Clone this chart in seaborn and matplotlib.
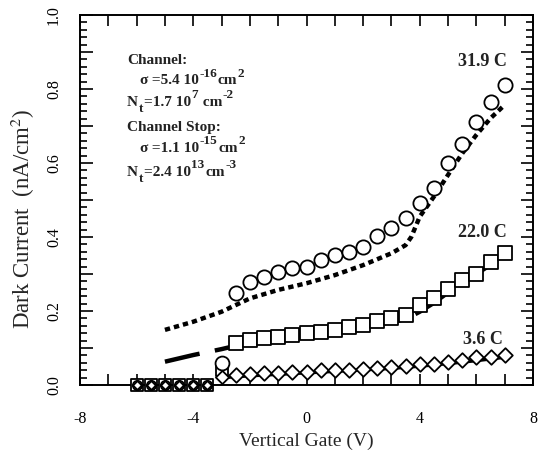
import numpy as np
import pandas as pd
import matplotlib
matplotlib.use("Agg")
import matplotlib.pyplot as plt
from matplotlib.ticker import MultipleLocator, FuncFormatter
import seaborn as sns

# ---- data ----
x_low = [-6.0, -5.5, -5.0, -4.5, -4.0, -3.5]
y_low = [0.0, 0.0, 0.0, 0.0, 0.0, 0.0]

x_meas = [-2.5, -2.0, -1.5, -1.0, -0.5, 0.0, 0.5, 1.0, 1.5, 2.0, 2.5, 3.0,
          3.5, 4.0, 4.5, 5.0, 5.5, 6.0, 6.5, 7.0]
y_319 = [0.248, 0.279, 0.293, 0.306, 0.315, 0.320, 0.338, 0.351, 0.360, 0.374,
         0.403, 0.424, 0.451, 0.493, 0.532, 0.599, 0.651, 0.712, 0.766, 0.811]
y_220 = [0.113, 0.122, 0.126, 0.131, 0.135, 0.140, 0.144, 0.149, 0.158, 0.162,
         0.174, 0.180, 0.189, 0.216, 0.234, 0.259, 0.284, 0.300, 0.333, 0.356]
y_36 = [0.027, 0.030, 0.033, 0.032, 0.036, 0.036, 0.041, 0.041, 0.041, 0.043,
        0.045, 0.049, 0.052, 0.057, 0.058, 0.061, 0.068, 0.075, 0.076, 0.081]
x_m3 = [-3.0]
y_319_m3 = [0.060]
y_220_m3 = [0.040]
y_36_m3 = [0.022]

# fits
x_fit319 = [-5.0, -4.0, -3.0, -2.0, -1.0, 0.0, 1.0, 2.0, 3.0, 3.5, 3.7, 4.0,
            4.5, 5.0, 5.5, 6.0, 6.5, 7.0]
y_fit319 = [0.149, 0.171, 0.198, 0.234, 0.257, 0.275, 0.297, 0.324, 0.356, 0.378,
            0.400, 0.455, 0.509, 0.568, 0.626, 0.676, 0.721, 0.757]
x_fit220 = [-5.0, -4.5, -4.0, -3.5, -3.0, -2.5, -2.0, -1.0, 0.0, 1.0, 2.0, 3.0,
            3.5, 4.0, 4.5, 5.0, 5.5, 6.0, 6.5, 7.0]
y_fit220 = [0.063, 0.072, 0.081, 0.089, 0.097, 0.106, 0.114, 0.127, 0.137, 0.147,
            0.158, 0.170, 0.178, 0.198, 0.222, 0.250, 0.278, 0.300, 0.325, 0.350]
x_fit36 = [-3.0, -2.0, -1.0, 0.0, 1.0, 2.0, 3.0, 4.0, 5.0, 6.0, 7.0]
y_fit36 = [0.020, 0.025, 0.029, 0.033, 0.037, 0.041, 0.045, 0.051, 0.058, 0.066, 0.075]

curve_labels = ["31.9 C", "22.0 C", "3.6 C"]

sns.set_style("ticks")
plt.rcParams["font.family"] = ["Liberation Serif", "DejaVu Serif"]
plt.rcParams["mathtext.fontset"] = "stix"

fig = plt.figure(figsize=(5.38, 4.57), dpi=100)
ax = fig.add_axes([80/538, 72/457, 453/538, 370/457])

# fit lines
sns.lineplot(x=x_fit319, y=y_fit319, ax=ax, color="black", lw=3.2,
             linestyle=(0, (1.2, 0.9)), estimator=None, sort=False)
sns.lineplot(x=x_fit220, y=y_fit220, ax=ax, color="black", lw=3.2,
             linestyle=(0, (8, 3.5)), estimator=None, sort=False)
sns.lineplot(x=x_fit36, y=y_fit36, ax=ax, color="black", lw=2.5,
             estimator=None, sort=False)

mk = dict(facecolor="white", edgecolor="black", linewidth=1.3, clip_on=False, zorder=5)
sns.scatterplot(x=x_low, y=y_low, ax=ax, marker="s", s=85, **mk)
sns.scatterplot(x=x_low, y=y_low, ax=ax, marker="o", s=45, **mk)
sns.scatterplot(x=x_low, y=y_low, ax=ax, marker="D", s=20, **mk)

sns.scatterplot(x=x_m3, y=y_220_m3, ax=ax, marker="s", s=85, **mk)
sns.scatterplot(x=x_m3, y=y_319_m3, ax=ax, marker="o", s=100, **mk)
sns.scatterplot(x=x_m3, y=y_36_m3, ax=ax, marker="D", s=45, **mk)
sns.scatterplot(x=x_meas, y=y_319, ax=ax, marker="o", s=105, **mk)
sns.scatterplot(x=x_meas, y=y_220, ax=ax, marker="s", s=100, **mk)
sns.scatterplot(x=x_meas, y=y_36, ax=ax, marker="D", s=55, **mk)

ax.set_xlim(-8, 8)
ax.set_ylim(0, 1.0)
ax.xaxis.set_major_locator(MultipleLocator(4))
ax.xaxis.set_minor_locator(MultipleLocator(1))
ax.yaxis.set_major_locator(MultipleLocator(0.1))
ax.yaxis.set_minor_locator(MultipleLocator(0.02))

def yfmt(v, pos):
    k = int(round(v * 10))
    return f"{v:.1f}" if k % 2 == 0 else ""
ax.yaxis.set_major_formatter(FuncFormatter(yfmt))
ax.xaxis.set_major_formatter(FuncFormatter(lambda v, p: f"{int(v)}"))

ax.tick_params(which="both", direction="in", top=True, right=True, colors="black",
               width=1.2)
ax.tick_params(axis="x", which="both", length=8, labelsize=11.5, pad=19)
ax.tick_params(axis="y", which="major", length=9, labelsize=11.5, pad=13)
ax.tick_params(axis="y", which="minor", length=5)
for lab in ax.get_yticklabels():
    lab.set_rotation(90)
    lab.set_va("center")
for sp in ax.spines.values():
    sp.set_linewidth(1.4)
    sp.set_color("black")

ax.set_xlabel("Vertical Gate (V)", fontsize=14, labelpad=4)
ax.set_ylabel("Dark Current  (nA/cm$^2$)", fontsize=16.5, labelpad=4)
ax.yaxis.set_label_coords(-0.095, 0.45)

# curve labels
tk = dict(fontsize=13, fontweight="bold", color="#222222", ha="center", va="center")
ax.text(6.22, 0.874, curve_labels[0], **tk)
ax.text(6.22, 0.413, curve_labels[1], **tk)
ax.text(6.22, 0.124, curve_labels[2], **tk)

# parameter annotation, built piecewise so super/subscripts are large like the original
renderer = fig.canvas.get_renderer()
BASE = 11
SUP = 9.5

def rich(px, py, pieces):
    x = px
    for txt, kind in pieces:
        if kind == "n":
            size, dy = BASE, 0
        elif kind == "sup":
            size, dy = SUP, -7
        else:
            size, dy = SUP, 7
        t = fig.text(x / 538, 1 - (py + dy) / 457, txt, fontsize=size,
                     fontweight="bold", color="#222222", ha="left", va="center")
        bb = t.get_window_extent(renderer=renderer)
        x += bb.width + 0.6

rich(127, 60, [("Channel:", "n")])
rich(139, 81, [("σ", "n"), (" =5.4 10", "n"), ("-16", "sup"), ("cm", "n"), ("2", "sup")])
rich(127, 102, [("N", "n"), ("t", "sub"), ("=1.7 10", "n"), ("7", "sup"), (" cm", "n"), ("-2", "sup")])
rich(127, 127, [("Channel Stop:", "n")])
rich(139, 148, [("σ", "n"), (" =1.1 10", "n"), ("-15", "sup"), ("cm", "n"), ("2", "sup")])
rich(127, 172, [("N", "n"), ("t", "sub"), ("=2.4 10", "n"), ("13", "sup"), ("cm", "n"), ("-3", "sup")])

fig.savefig("out.png", dpi=100)
